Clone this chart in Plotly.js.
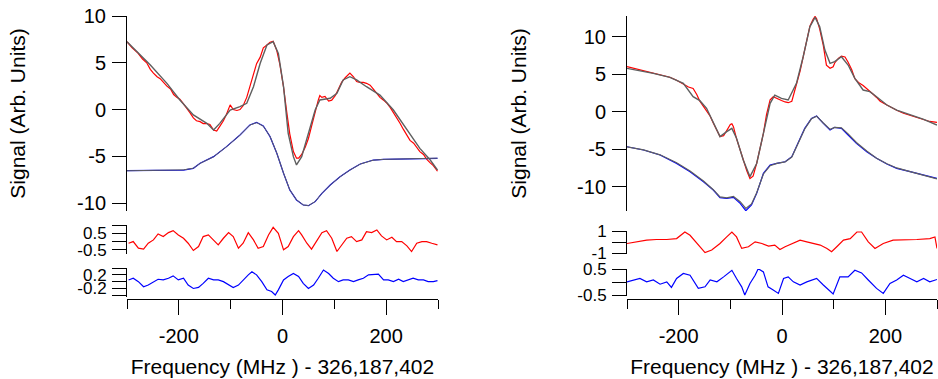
<!DOCTYPE html>
<html>
<head>
<meta charset="utf-8">
<script src="https://cdn.plot.ly/plotly-3.0.1.min.js"></script>
<style>html,body{margin:0;padding:0;background:#fff;}#chart{width:938px;height:379px;}</style>
</head>
<body>
<div id="chart"></div>
<script>
// ---------- Left panel: main signals ----------
const leftRedX = [-300,-290,-280,-270,-262,-255,-249,-242,-236,-230,-223,-216,-210,-204,-198,-191,-185,-179,-172,-166,-159,-153,-146,-140,-133,-127,-121,-114,-108,-101,-95,-88,-82,-76,-69,-63,-56,-50,-43,-37,-30,-24,-18,-11,-5,2,8,14,21,27,31,37,44,50,56,63,69,72,76,82,89,95,102,108,114,121,127,130,137,143,149,156,162,169,175,182,188,195,201,208,214,220,227,233,240,246,253,259,265,272,278,285,291,299];
const leftRedY = [7.25,6.6,6.1,5.4,5.0,4.3,3.9,3.5,3.3,2.9,2.5,2.2,1.6,1.3,1.1,0.6,0.2,-0.3,-0.9,-1.2,-1.3,-1.5,-1.5,-1.6,-2.2,-2.3,-1.8,-1.2,-0.5,0.5,0.0,-0.1,0.0,0.4,1.3,2.5,3.6,4.9,5.6,6.6,6.9,7.2,7.3,6.3,4.8,2.4,-0.2,-2.6,-4.5,-5.2,-5.2,-4.8,-4.0,-3.1,-1.8,-0.2,1.0,1.5,1.3,1.4,0.9,1.0,1.5,2.2,2.9,3.4,3.7,3.9,3.5,3.0,2.9,2.9,2.8,2.6,2.2,1.7,1.3,1.0,0.7,0.2,-0.3,-0.9,-1.5,-2.1,-2.7,-3.3,-3.6,-4.1,-4.5,-4.8,-5.3,-5.7,-6.0,-6.6];
const leftFitX = [-300,-255,-223,-198,-172,-146,-133,-121,-101,-82,-69,-56,-43,-30,-18,-8,2,11,21,27,37,50,63,72,92,105,117,130,143,162,188,214,240,265,285,299];
const leftFitY = [7.25,4.76,2.8,1.02,-0.58,-1.48,-2.19,-1.48,-0.05,0.3,0.66,2.44,4.94,6.9,7.26,6.0,2.44,-2.55,-5.04,-5.93,-5.04,-2.55,-0.05,1.02,1.2,1.73,3.16,3.51,3.16,2.44,1.55,-0.05,-2.19,-4.15,-5.4,-6.47];
const leftBlueX = [-300,-255,-223,-191,-172,-159,-133,-108,-82,-63,-50,-37,-24,-11,2,14,27,40,50,63,76,92,111,130,150,175,195,227,259,299];
const leftBlueY = [-6.54,-6.54,-6.47,-6.47,-6.29,-5.75,-5.04,-3.97,-2.72,-1.65,-1.37,-1.76,-2.9,-4.68,-6.82,-8.6,-9.67,-10.21,-10.28,-9.85,-8.96,-8.07,-7.18,-6.47,-5.82,-5.4,-5.33,-5.29,-5.25,-5.22];
const leftBlueFitY = [-6.55,-6.53,-6.46,-6.45,-6.27,-5.76,-5.05,-3.98,-2.73,-1.67,-1.4,-1.78,-2.88,-4.66,-6.8,-8.58,-9.66,-10.2,-10.27,-9.84,-8.97,-8.08,-7.19,-6.48,-5.83,-5.42,-5.33,-5.28,-5.24,-5.2];

// ---------- Left panel: residuals ----------
const leftResRedX = [-297,-288,-278,-268,-259,-249,-240,-230,-220,-211,-201,-191,-182,-172,-162,-153,-143,-133,-124,-114,-104,-95,-85,-76,-66,-56,-47,-37,-27,-18,-8,2,11,21,31,37,47,56,66,76,85,95,105,114,124,133,143,153,162,172,182,191,201,211,220,230,240,249,259,269,278,288,299];
const leftResRedY = [-0.1,0,-0.4,-0.46,-0.1,0.1,0.46,0.3,0.54,0.66,0.4,0.2,-0.1,-0.54,-0.3,0.3,0.4,0.1,-0.2,0.2,0.54,0.3,-0.4,-0.1,0.54,0.1,-0.4,-0.3,0.4,0.86,0.5,-0.5,-0.3,0.3,0.66,0.4,-0.1,-0.46,0,0.54,0.66,0.2,-0.6,-0.2,0.2,0.3,0,0.1,0.6,0.54,0.7,0.34,0.1,0.26,0,0,-0.26,-0.6,-0.1,0,0,-0.1,-0.2];
const leftResBlueX = [-297,-288,-278,-268,-259,-249,-240,-230,-220,-211,-201,-191,-182,-172,-162,-153,-143,-133,-124,-114,-104,-95,-85,-76,-66,-59,-50,-40,-30,-21,-14,-8,2,11,21,31,40,50,60,69,79,89,98,108,117,127,137,146,156,166,175,185,195,204,214,224,233,243,252,262,272,281,291,299];
const leftResBlueY = [0.05,0.1,0,-0.15,-0.1,0,0.07,0.05,0.1,0.17,0.05,0.1,-0.1,-0.2,-0.17,-0.05,0.1,0.05,0.05,0,-0.1,-0.17,-0.1,0.05,0.2,0.29,0.2,0,-0.24,-0.29,-0.39,-0.24,0.05,0.15,0.24,0.15,-0.05,-0.2,-0.1,0.1,0.34,0.24,0.1,0,0.05,0.05,0,0.05,0.1,0.2,0.2,0.22,0.05,0.05,0,0.07,0,0.05,0.1,0.05,0.05,0,0,0.03];

// ---------- Right panel: main signals ----------
const rightRedX = [-300,-281,-262,-249,-236,-217,-204,-191,-181,-172,-165,-159,-152,-146,-139,-133,-126,-120,-113,-107,-100,-97,-94,-88,-81,-75,-68,-62,-56,-49,-43,-36,-30,-23,-17,-14,-7,-1,6,12,19,28,35,41,48,54,60,64,67,73,80,86,93,99,102,109,115,122,128,135,141,148,157,164,170,177,183,190,203,216,222,235,248,261,273,286,300];
const rightRedY = [6.0,5.7,5.4,5.1,4.9,4.6,4.2,3.7,3.3,3.1,2.3,1.4,0.7,0.0,-0.6,-1.5,-2.5,-3.3,-3.2,-2.5,-1.7,-1.6,-2.0,-3.6,-5.2,-6.6,-7.9,-8.9,-8.6,-6.9,-5.0,-2.9,-0.4,1.6,2.0,1.9,1.6,1.5,1.3,1.2,1.4,3.6,5.4,7.3,9.6,11.4,12.3,12.7,12.4,11.0,8.8,6.2,5.8,6.0,6.5,7.1,7.4,7.3,6.6,5.6,4.4,3.9,3.5,3.1,2.8,2.3,1.9,1.4,0.9,0.4,0.2,-0.2,-0.5,-0.8,-1.0,-1.3,-1.42];
const rightFitX = [-300,-249,-217,-191,-172,-159,-146,-133,-120,-107,-97,-88,-75,-62,-49,-36,-23,-14,-1,12,28,41,54,64,73,83,93,102,115,128,141,157,170,183,203,222,248,273,300];
const rightFitY = [5.78,5.11,4.58,3.78,2.0,1.47,0.45,-1.55,-3.33,-2.66,-2.22,-3.55,-6.44,-8.66,-6.9,-2.89,1.11,2.22,1.78,1.56,3.78,7.33,11.33,12.58,11.33,8.22,6.45,6.67,7.33,6.22,4.44,2.89,2.67,2.0,0.89,0.22,-0.44,-0.98,-1.78];
const rightBlueX = [-300,-268,-236,-204,-178,-152,-133,-120,-107,-94,-81,-70,-59,-49,-36,-23,-10,6,19,31,44,57,67,80,93,102,115,128,144,164,183,203,222,248,273,300];
const rightBlueY = [-4.67,-5.11,-5.78,-6.89,-8.0,-9.33,-10.44,-11.46,-11.55,-11.42,-12.22,-13.2,-12.44,-10.89,-8.22,-7.11,-6.89,-6.67,-6.0,-4.22,-2.22,-0.89,-0.58,-1.55,-2.44,-2.08,-2.22,-3.11,-4.22,-5.33,-6.22,-6.98,-7.55,-8.0,-8.44,-8.89];
const rightBlueFitY = [-4.7,-5.1,-5.75,-6.8,-7.9,-9.25,-10.4,-11.35,-11.5,-11.3,-12.0,-12.9,-12.3,-10.8,-8.3,-7.2,-6.9,-6.7,-6.05,-4.3,-2.3,-0.95,-0.6,-1.5,-2.35,-2.1,-2.15,-2.95,-4.1,-5.25,-6.2,-6.95,-7.5,-8.0,-8.45,-8.95];

// ---------- Right panel: residuals ----------
const rightResRedX = [-300,-281,-262,-243,-223,-204,-188,-178,-165,-149,-136,-120,-107,-97,-88,-78,-65,-52,-39,-26,-14,-4,6,19,35,48,61,74,87,96,106,119,132,145,154,167,180,196,215,235,261,286,296,300];
const rightResRedY = [-0.12,0.03,0.18,0.24,0.24,0.32,0.91,0.62,-0.12,-0.94,-0.71,-0.12,0.47,0.91,0.47,-0.56,-0.41,0.03,-0.12,-0.35,-0.26,-0.65,-0.41,-0.12,0.18,0.03,-0.12,-0.26,-0.56,-0.85,-0.41,0.18,0.32,0.91,0.91,0.03,-0.56,-0.12,0.18,0.18,0.24,0.32,0.47,-0.56];
const rightResBlueX = [-300,-288,-275,-262,-249,-236,-223,-214,-204,-191,-178,-162,-149,-139,-126,-113,-97,-88,-78,-72,-62,-52,-46,-36,-27,-17,-7,3,12,22,35,48,67,80,90,99,112,128,141,154,167,183,196,209,222,235,248,261,274,286,300];
const rightResBlueY = [0.01,0.08,0.14,0.01,0.08,-0.08,0.01,-0.2,0.14,0.33,0.26,-0.24,-0.18,0.08,0.01,0.2,0.45,0.14,-0.18,-0.49,-0.05,0.26,0.51,0.39,-0.18,-0.3,-0.43,0.14,0.2,0.01,-0.11,0.01,0.14,-0.11,-0.3,-0.45,0.2,0.2,0.45,0.35,0.08,-0.24,-0.43,-0.05,0.08,0.26,0.14,0.01,0.14,0.01,0.1];

// ---------- Labels ----------
const xTitleText = 'Frequency (MHz ) - 326,187,402';
const yTitleText = 'Signal (Arb. Units)';
const mainTicks = [-10, -5, 0, 5, 10];

const RED = '#ff0000', BLUE = '#0000ff', GRAY = '#5f5f5f';
const W = 938, H = 379;
const py = p => 1 - p / H;
const px = p => p / W;

function line(x, y, color, xa, ya, w) {
  return {x: x, y: y, type: 'scatter', mode: 'lines', xaxis: xa, yaxis: ya,
          line: {color: color, width: w || 1.2}, hoverinfo: 'skip', showlegend: false};
}

const traces = [
  line(leftRedX, leftRedY, RED, 'x', 'y'),
  line(leftBlueX, leftBlueY, BLUE, 'x', 'y'),
  line(leftFitX, leftFitY, GRAY, 'x', 'y', 1.4),
  line(leftBlueX, leftBlueFitY, GRAY, 'x', 'y', 1.0),
  line(leftResRedX, leftResRedY, RED, 'x', 'y2'),
  line(leftResBlueX, leftResBlueY, BLUE, 'x', 'y3'),
  line(rightRedX, rightRedY, RED, 'x2', 'y4'),
  line(rightBlueX, rightBlueY, BLUE, 'x2', 'y4'),
  line(rightFitX, rightFitY, GRAY, 'x2', 'y4', 1.4),
  line(rightBlueX, rightBlueFitY, GRAY, 'x2', 'y4', 1.2),
  line(rightResRedX, rightResRedY, RED, 'x2', 'y5'),
  line(rightResBlueX, rightResBlueY, BLUE, 'x2', 'y6')
];

const FAM = '"Liberation Sans", Arial, sans-serif';
const FONT = {family: FAM, size: 20, color: '#000'};
const SFONT = {family: FAM, size: 17, color: '#000'};
const TFONT = {family: FAM, size: 21, color: '#000'};

function xAxis(domain) {
  return {
    domain: domain, range: [-300, 300], anchor: 'free', position: py(299),
    showline: true, linecolor: '#000', linewidth: 1, showgrid: false, zeroline: false,
    ticks: 'outside', ticklen: 15, tickcolor: '#000', tickwidth: 1,
    tickvals: [-200, 0, 200], ticktext: ['-200', '0', '200'], tickfont: FONT, ticklabelstandoff: 4,
    minor: {tickvals: [-300, -100, 100, 300], ticks: 'outside', ticklen: 9, tickcolor: '#000', showgrid: false},
    title: {text: xTitleText, font: TFONT, standoff: 13}, fixedrange: true
  };
}
function yAxis(anchor, pTop, pBot, range, vals, texts, font, title, standoff) {
  const a = {
    anchor: anchor, domain: [py(pBot), py(pTop)], range: range,
    showline: true, linecolor: '#000', linewidth: 1, showgrid: false, zeroline: false,
    ticks: 'outside', ticklen: 14, tickcolor: '#000', tickwidth: 1,
    tickvals: vals, ticktext: texts, tickfont: font, ticklabelstandoff: 2, fixedrange: true
  };
  if (title) a.title = {text: title, font: TFONT, standoff: standoff};
  return a;
}

const layout = {
  width: W, height: H, margin: {l: 0, r: 0, t: 0, b: 0},
  paper_bgcolor: '#fff', plot_bgcolor: '#fff', showlegend: false,
  font: FONT,
  xaxis: xAxis([px(127), px(438)]),
  xaxis2: xAxis([px(627), px(937)]),
  yaxis: yAxis('x', 16, 211, [-10.85, 10], mainTicks, mainTicks.map(String), FONT, yTitleText, 45),
  yaxis2: yAxis('x', 225, 254, [-0.75, 1.0], [1, 0.5, 0, -0.5], ['', '0.5', '', '-0.5'], SFONT),
  yaxis3: yAxis('x', 268, 297, [-0.45, 0.4], [0.4, 0.2, 0, -0.2, -0.4], ['', '0.2', '', '-0.2', ''], SFONT),
  yaxis4: yAxis('x2', 16, 211, [-13.24, 12.76], mainTicks, mainTicks.map(String), FONT, yTitleText, 44),
  yaxis5: yAxis('x2', 231, 254, [-1.06, 1.0], [1, 0, -1], ['1', '', '-1'], SFONT),
  yaxis6: yAxis('x2', 269, 296, [-0.53, 0.5], [0.5, 0, -0.5], ['0.5', '', '-0.5'], SFONT)
};

Plotly.newPlot('chart', traces, layout, {staticPlot: true, displayModeBar: false});
</script>
</body>
</html>
